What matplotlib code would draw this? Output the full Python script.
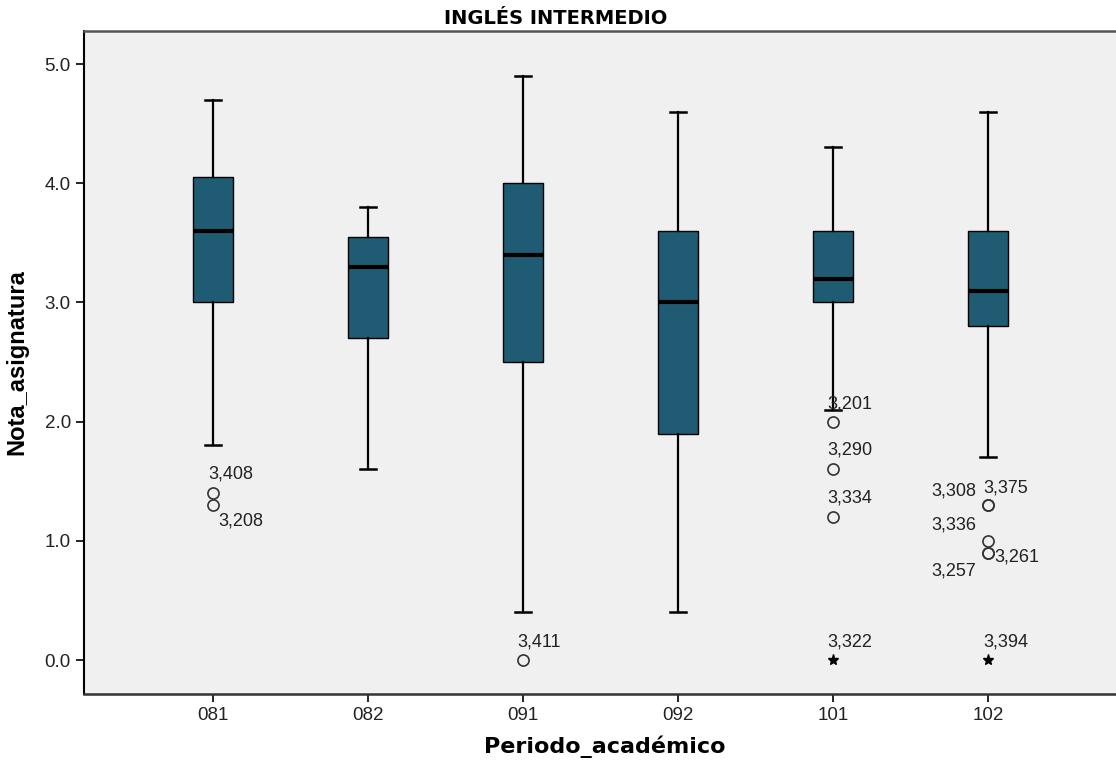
import numpy as np
import matplotlib.pyplot as plt

plt.rcParams['font.family'] = ['Liberation Sans', 'DejaVu Sans']

# boxplot summary per academic period
periodos = ['081', '082', '091', '092', '101', '102']
q1 = [3.0, 2.7, 2.5, 1.9, 3.0, 2.8]
mediana = [3.6, 3.3, 3.4, 3.0, 3.2, 3.1]
q3 = [4.05, 3.55, 4.0, 3.6, 3.6, 3.6]
bigote_inf = [1.8, 1.6, 0.4, 0.4, 2.1, 1.7]
bigote_sup = [4.7, 3.8, 4.9, 4.6, 4.3, 4.6]

# outliers (circles) and extremes (stars) with case ids
atipicos = [[1.4, 1.3], [], [0.0], [], [2.0, 1.6, 1.2], [1.3, 1.3, 1.0, 0.9, 0.9]]
atipicos_id = [['3,408', '3,208'], [], ['3,411'], [], ['3,201', '3,290', '3,334'],
               ['3,308', '3,375', '3,336', '3,261', '3,257']]
extremos = [[], [], [], [], [0.0], [0.0]]
extremos_id = [[], [], [], [], ['3,322'], ['3,394']]

# label offsets in pixels (dx to text left edge, dy to text centre)
off_atipicos = [[(-5, 19), (5, -16)], [], [(-6, 18)], [], [(-6, 18), (-6, 19), (-6, 19)],
                [(-57, 14), (-5, 17), (-57, 16), (6, -4), (-57, -18)]]
off_extremos = [[], [], [], [], [(-6, 18)], [(-5, 18)]]

stats = []
for i, p in enumerate(periodos):
    stats.append({'label': p, 'q1': q1[i], 'med': mediana[i], 'q3': q3[i],
                  'whislo': bigote_inf[i], 'whishi': bigote_sup[i], 'fliers': []})

fig = plt.figure(figsize=(11.16, 7.61), dpi=100)
W, H = 1116, 761
ax_l, ax_r, ax_t, ax_b = 84, 1126, 31, 694
ax = fig.add_axes([ax_l / W, 1 - ax_b / H, (ax_r - ax_l) / W, (ax_b - ax_t) / H])
ax.set_facecolor('#f0f0f0')

pos = np.arange(len(periodos))
ax.bxp(stats, positions=pos, widths=0.26, capwidths=0.1, patch_artist=True,
       showfliers=False,
       boxprops=dict(facecolor='#1f5c73', edgecolor='black', linewidth=1),
       medianprops=dict(color='black', linewidth=3, solid_capstyle='butt'),
       whiskerprops=dict(color='black', linewidth=1.6),
       capprops=dict(color='black', linewidth=1.8))

for i in range(len(periodos)):
    for v, lab, (dx, dy) in zip(atipicos[i], atipicos_id[i], off_atipicos[i]):
        ax.plot(pos[i], v, 'o', ms=8, mfc='none', mec='#333333', mew=1.2)
        ax.annotate(lab, (pos[i], v), xytext=(dx, dy), textcoords='offset pixels',
                    ha='left', va='center', fontsize=13, color='#222222')
    for v, lab, (dx, dy) in zip(extremos[i], extremos_id[i], off_extremos[i]):
        ax.plot(pos[i], v, '*', ms=8, color='black')
        ax.annotate(lab, (pos[i], v), xytext=(dx, dy), textcoords='offset pixels',
                    ha='left', va='center', fontsize=13, color='#222222')

ax.set_xlim(-(213 - ax_l) / 155, (ax_r - 213) / 155)
ax.set_ylim(-0.285, 5.277)
ax.set_xticks(pos)
ax.set_xticklabels(periodos)
ax.set_yticks([0, 1, 2, 3, 4, 5])
ax.set_yticklabels(['0.0', '1.0', '2.0', '3.0', '4.0', '5.0'])
ax.tick_params(axis='both', direction='out', length=6, width=1.2, labelsize=13.5, colors='black',
               labelcolor='#222222')

ax.spines['left'].set_color('black')
ax.spines['left'].set_linewidth(1.5)
ax.spines['bottom'].set_color('#333333')
ax.spines['bottom'].set_linewidth(1.8)
ax.spines['top'].set_color('#555555')
ax.spines['top'].set_linewidth(1.8)
ax.spines['right'].set_visible(False)

ax.set_xlabel('Periodo_académico', fontsize=16, fontweight='bold', labelpad=8,
              family=['DejaVu Sans'])
ax.set_ylabel('Nota_asignatura', fontsize=17, fontweight='bold', labelpad=12)
fig.text((433 + 678) / 2 / W, 1 - 18 / H, 'INGLÉS INTERMEDIO', ha='center', va='center',
         fontsize=14, fontweight='bold', family=['DejaVu Sans'])

fig.savefig('out.png', dpi=100)
